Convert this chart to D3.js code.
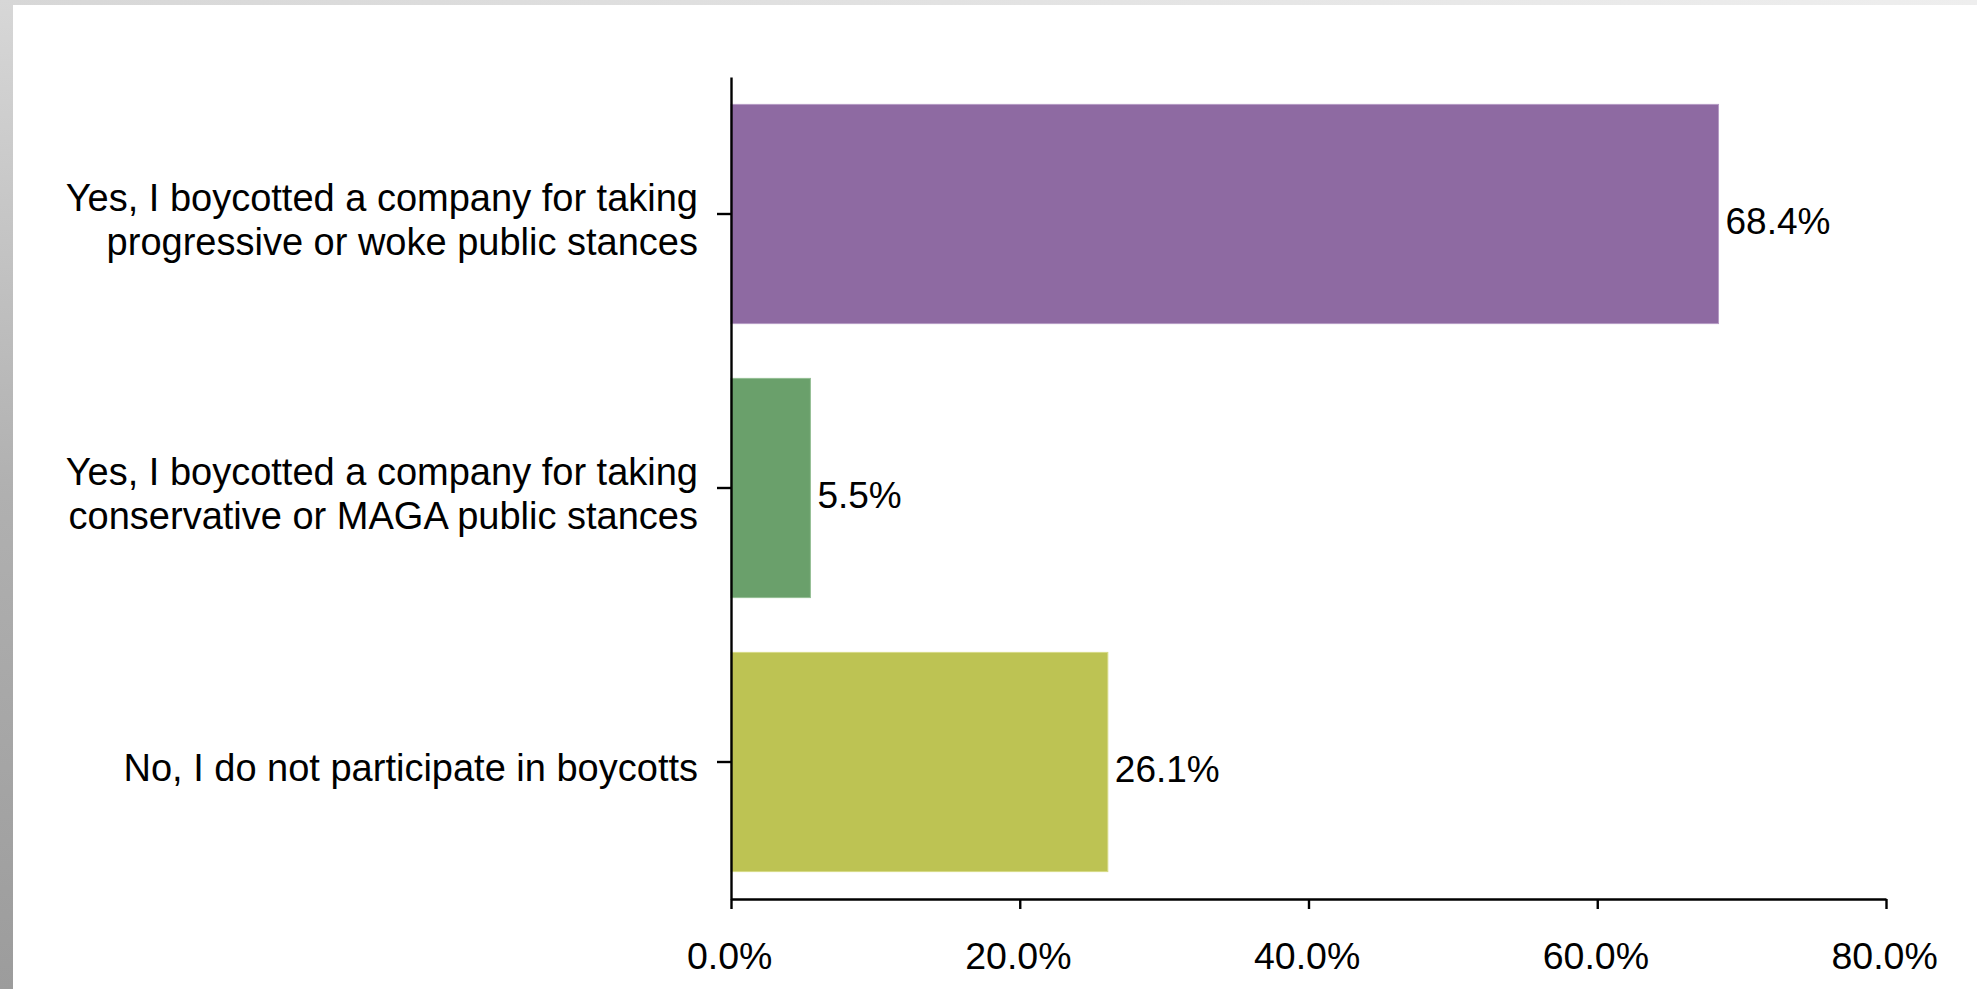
<!DOCTYPE html>
<html>
<head>
<meta charset="utf-8">
<script src="https://cdn.jsdelivr.net/npm/d3@7"></script>
<style>
  html, body { margin: 0; padding: 0; background: #fff; overflow: hidden; }
  svg { display: block; }
  text { font-family: "Liberation Sans", Arial, Helvetica, sans-serif; fill: #000; }
</style>
</head>
<body>
<svg id="chart" width="1977" height="989"></svg>
<script>
// ---- Data ----
const categories = [
  "Yes, I boycotted a company for taking\nprogressive or woke public stances",
  "Yes, I boycotted a company for taking\nconservative or MAGA public stances",
  "No, I do not participate in boycotts"
];
const values = [68.4, 5.5, 26.1];
const barColors = ["#8E6AA2", "#6AA06B", "#BDC353"];
const barEdgeColors = ["#B59BC4", "#93BD93", "#D6DA86"];
const xTickValues = [0, 20, 40, 60, 80];
const xTickLabels = ["0.0%", "20.0%", "40.0%", "60.0%", "80.0%"];
const valueLabels = ["68.4%", "5.5%", "26.1%"];

// ---- Layout ----
const W = 1977, H = 989;
const FONT_CAT = 38, FONT_TICK = 37.5, FONT_VAL = 37;
const svg = d3.select("#chart");

// page frame (gray strips at left and top)
const defs = svg.append("defs");
const gl = defs.append("linearGradient").attr("id", "leftStrip")
  .attr("x1", 0).attr("y1", 0).attr("x2", 0).attr("y2", 1);
gl.append("stop").attr("offset", "0%").attr("stop-color", "#d7d7d7");
gl.append("stop").attr("offset", "50%").attr("stop-color", "#b0b0b0");
gl.append("stop").attr("offset", "100%").attr("stop-color", "#9c9c9c");
const gt = defs.append("linearGradient").attr("id", "topStrip")
  .attr("x1", 0).attr("y1", 0).attr("x2", 1).attr("y2", 0);
gt.append("stop").attr("offset", "0%").attr("stop-color", "#d7d7d7");
gt.append("stop").attr("offset", "100%").attr("stop-color", "#eeeeee");

svg.append("rect").attr("x", 0).attr("y", 0).attr("width", W).attr("height", H).attr("fill", "#fff");
svg.append("rect").attr("x", 0).attr("y", 0).attr("width", W).attr("height", 5).attr("fill", "url(#topStrip)");
svg.append("rect").attr("x", 0).attr("y", 0).attr("width", 13).attr("height", H).attr("fill", "url(#leftStrip)");

const x0 = 731, x1 = 1886;
const yTop = 77, yBot = 899;

const x = d3.scaleLinear().domain([0, 80]).range([x0, x1]);
const y = d3.scaleBand().domain(categories).range([yTop, yBot])
  .paddingInner(0.2).paddingOuter(0.1);

// ---- Bars ----
const g = svg.append("g");
g.selectAll("rect.bar")
  .data(values)
  .join("rect")
  .attr("class", "bar")
  .attr("x", x(0))
  .attr("y", (d, i) => y(categories[i]))
  .attr("width", d => x(d) - x(0))
  .attr("height", y.bandwidth())
  .attr("fill", (d, i) => barColors[i])
  .attr("stroke", (d, i) => barEdgeColors[i])
  .attr("stroke-width", 1);

// ---- Value labels ----
g.selectAll("text.val")
  .data(values)
  .join("text")
  .attr("class", "val")
  .attr("x", d => x(d) + 7)
  .attr("y", (d, i) => y(categories[i]) + y.bandwidth() / 2 + 20)
  .attr("font-size", FONT_VAL)
  .text((d, i) => valueLabels[i]);

// ---- X axis ----
const xAxis = d3.axisBottom(x)
  .tickValues(xTickValues)
  .tickFormat((d, i) => xTickLabels[i])
  .tickSize(10)
  .tickSizeOuter(0)
  .tickPadding(33);
const gx = svg.append("g").attr("transform", `translate(0,${yBot})`).call(xAxis);
gx.select(".domain").attr("stroke", "#000").attr("stroke-width", 2.4);
gx.selectAll(".tick line").attr("stroke", "#000").attr("stroke-width", 2.4);
gx.selectAll(".tick text")
  .attr("font-size", FONT_TICK)
  .attr("font-family", "'Liberation Sans', Arial, sans-serif")
  .attr("fill", "#000")
  .attr("dx", "-0.05em");

// ---- Y axis ----
const yAxis = d3.axisLeft(y).tickSize(14).tickSizeOuter(0).tickPadding(19);
const gy = svg.append("g").attr("transform", `translate(${x0},0)`).call(yAxis);
gy.select(".domain").attr("stroke", "#000").attr("stroke-width", 2.4);
gy.selectAll(".tick line").attr("stroke", "#000").attr("stroke-width", 2.4);
const lineH = 44;
gy.selectAll(".tick text")
  .attr("font-size", FONT_CAT)
  .attr("font-family", "'Liberation Sans', Arial, sans-serif")
  .attr("fill", "#000")
  .attr("dy", null)
  .each(function(d) {
    const t = d3.select(this);
    const lines = d.split("\n");
    const xx = t.attr("x");
    t.text(null);
    const first = 18.5 - (lines.length - 1) * lineH / 2;
    lines.forEach((ln, k) => {
      t.append("tspan").attr("x", xx).attr("y", first + k * lineH).text(ln);
    });
  });
</script>
</body>
</html>
